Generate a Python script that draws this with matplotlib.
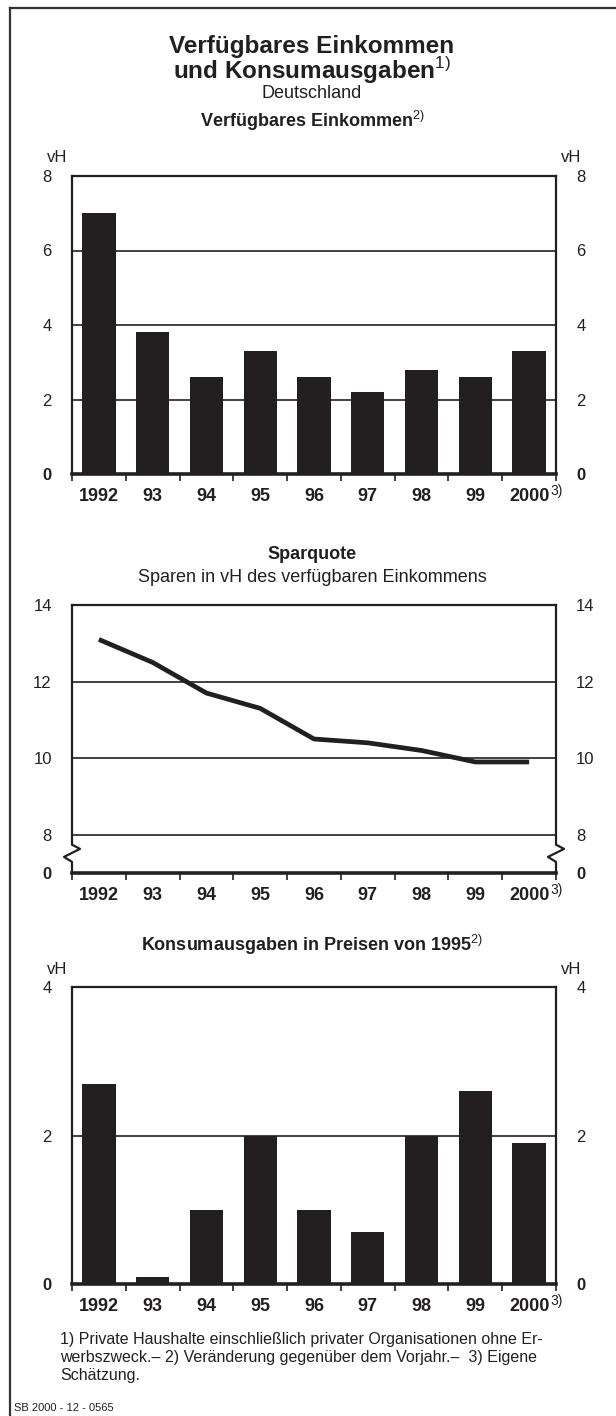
import numpy as np
import matplotlib
matplotlib.use('Agg')
import matplotlib.pyplot as plt
from matplotlib.lines import Line2D
import matplotlib.transforms as mtransforms

plt.rcParams['font.family'] = ['Liberation Sans', 'DejaVu Sans']
plt.rcParams['mathtext.fontset'] = 'custom'
plt.rcParams['mathtext.rm'] = 'Liberation Sans'

# data (vH)
YEARS = ['1992', '93', '94', '95', '96', '97', '98', '99', '2000']
EINKOMMEN = [7.0, 3.8, 2.6, 3.3, 2.6, 2.2, 2.8, 2.6, 3.3]
SPARQUOTE = [13.1, 12.5, 11.7, 11.3, 10.5, 10.4, 10.2, 9.9, 9.9]
KONSUM = [2.7, 0.1, 1.0, 2.0, 1.0, 0.7, 2.0, 2.6, 1.9]

INK = '#231f20'
W, H = 616, 1416
FOOTNOTE = ('1) Private Haushalte einschließlich privater Organisationen ohne Er-\n'
            'werbszweck.– 2) Veränderung gegenüber dem Vorjahr.–  3) Eigene\n'
            'Schätzung.')


def add_axes_px(fig, left, top, right, bottom):
    return fig.add_axes([left / W, 1 - bottom / H, (right - left) / W, (bottom - top) / H])


def fig_text(fig, x, y, s, **kw):
    kw.setdefault('ha', 'center')
    kw.setdefault('va', 'center')
    kw.setdefault('color', INK)
    return fig.text(x / W, 1 - y / H, s, **kw)


def style_axes(ax, ylim, yticks, ylabels):
    n = len(YEARS)
    ax.set_xlim(-0.5, n - 0.5)
    ax.set_ylim(*ylim)
    for side in ['left', 'right', 'top']:
        ax.spines[side].set_linewidth(1.6)
        ax.spines[side].set_color(INK)
    ax.spines['bottom'].set_linewidth(2.6)
    ax.spines['bottom'].set_color(INK)

    # tick marks at the slot borders, year labels in the middle
    ax.set_xticks(np.arange(n + 1) - 0.5)
    ax.set_xticklabels([])
    ax.tick_params(axis='x', which='major', direction='out', length=5, width=1.2, color=INK)
    ax.set_xticks(np.arange(n), minor=True)
    ax.set_xticklabels(YEARS, minor=True, fontweight='bold', fontsize=13, color=INK)
    ax.tick_params(axis='x', which='minor', length=0, pad=10)

    ax.set_yticks(yticks)
    ax.set_yticklabels(ylabels)
    ax.tick_params(axis='y', left=False, right=False, labelleft=True, labelright=True,
                   labelsize=12, labelcolor=INK, pad=11)
    for tick in ax.yaxis.get_major_ticks():
        if tick.label1.get_text() == '0':
            tick.label1.set_fontweight('bold')
            tick.label2.set_fontweight('bold')
    ax.yaxis.grid(True, color=INK, linewidth=1.2)
    ax.set_axisbelow(True)

    # footnote mark on the last year
    ax.annotate('3)', xy=(n - 1, 0), xycoords=('data', 'axes fraction'),
                xytext=(15, -12), textcoords='offset points',
                fontsize=10, ha='left', va='center', color=INK)


def main():
    fig = plt.figure(figsize=(W / 100, H / 100), dpi=100)
    x = np.arange(len(YEARS))

    # frame
    fig.add_artist(Line2D([10 / W, 10 / W], [1 - 8 / H, 0], color='#333333', linewidth=1.6))
    fig.add_artist(Line2D([10 / W, 1], [1 - 8 / H, 1 - 8 / H], color='#333333', linewidth=1.6))

    # titles
    fig_text(fig, 312, 46, 'Verfügbares Einkommen', fontsize=17.5, fontweight='bold')
    fig_text(fig, 312, 71, r'und Konsumausgaben$^{\mathrm{1)}}$', fontsize=17.5, fontweight='bold')
    fig_text(fig, 312, 94, 'Deutschland', fontsize=13)

    # Verfügbares Einkommen
    fig_text(fig, 312, 121, r'Verfügbares Einkommen$^{\mathrm{2)}}$', fontsize=13, fontweight='bold')
    ax1 = add_axes_px(fig, 72, 176, 556, 474)
    ax1.bar(x, EINKOMMEN, width=0.62, color=INK, zorder=3)
    style_axes(ax1, (0, 8), [0, 2, 4, 6, 8], ['0', '2', '4', '6', '8'])
    fig_text(fig, 47, 157, 'vH', fontsize=12, ha='left')
    fig_text(fig, 581, 157, 'vH', fontsize=12, ha='right')

    # Sparquote (axis broken between 0 and 8)
    fig_text(fig, 312, 555, 'Sparquote', fontsize=13, fontweight='bold')
    fig_text(fig, 312, 577, 'Sparen in vH des verfügbaren Einkommens', fontsize=13)
    ax2 = add_axes_px(fig, 72, 605, 556, 873)
    ax2.plot(x, SPARQUOTE, color=INK, linewidth=3.4, solid_capstyle='butt', zorder=3)
    style_axes(ax2, (7, 14), [7, 8, 10, 12, 14], ['0', '8', '10', '12', '14'])
    ax2.spines['left'].set_visible(False)
    ax2.spines['right'].set_visible(False)
    trans = mtransforms.blended_transform_factory(ax2.transAxes, ax2.transData)
    dx = 8 / 484
    for x0 in [0, 1]:
        ax2.plot([x0, x0, x0 + dx, x0 - dx, x0, x0], [14, 7.74, 7.63, 7.42, 7.29, 7.0],
                 transform=trans, color=INK, linewidth=1.6, clip_on=False, zorder=4)

    # Konsumausgaben
    fig_text(fig, 312, 945, r'Konsumausgaben in Preisen von 1995$^{\mathrm{2)}}$',
             fontsize=13, fontweight='bold')
    ax3 = add_axes_px(fig, 72, 987, 556, 1284)
    ax3.bar(x, KONSUM, width=0.62, color=INK, zorder=3)
    style_axes(ax3, (0, 4), [0, 2, 4], ['0', '2', '4'])
    fig_text(fig, 47, 969, 'vH', fontsize=12, ha='left')
    fig_text(fig, 581, 969, 'vH', fontsize=12, ha='right')

    # footnotes
    fig_text(fig, 60, 1332, FOOTNOTE, fontsize=11.5, ha='left', va='top', linespacing=1.25)
    fig_text(fig, 14, 1408, 'SB 2000 - 12 - 0565', fontsize=8, ha='left')

    fig.savefig('out.png', dpi=100)


if __name__ == '__main__':
    main()
